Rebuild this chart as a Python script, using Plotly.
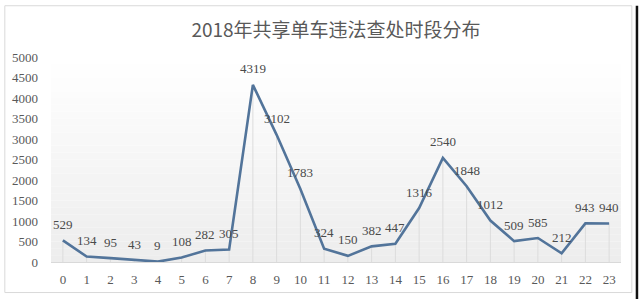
import plotly.graph_objects as go

# Hourly counts of shared-bike violations handled in 2018
hours = list(range(24))
counts = [529, 134, 95, 43, 9, 108, 282, 305, 4319, 3102, 1783, 324,
          150, 382, 447, 1316, 2540, 1848, 1012, 509, 585, 212, 943, 940]
y_ticks = list(range(0, 5001, 500))

title_text = "2018年共享单车违法查处时段分布"
line_color = "#52749a"
label_color = "#4a4a4a"
axis_text = "#595959"
num_font = "Liberation Serif, DejaVu Serif, serif"

fig = go.Figure()

# drop lines from each point down to the category axis
drop_x, drop_y = [], []
for h, c in zip(hours, counts):
    drop_x += [h, h, None]
    drop_y += [0, c, None]
fig.add_trace(go.Scatter(x=drop_x, y=drop_y, mode="lines",
                         line=dict(color="#dcdcdc", width=1),
                         hoverinfo="skip", showlegend=False))

fig.add_trace(go.Scatter(x=hours, y=counts, mode="lines",
                         line=dict(color=line_color, width=2.6),
                         showlegend=False))

# value labels above each point
for h, c in zip(hours, counts):
    fig.add_annotation(x=h, y=c, text=str(c), showarrow=False,
                       yshift=16, xanchor="center", yanchor="middle",
                       font=dict(family=num_font, size=13, color=label_color))

# soft vertical gradient behind the plot area
n_bands = 30
for i in range(n_bands):
    t = i / (n_bands - 1)
    g = int(round(255 - 18 * (1 - t)))
    fig.add_shape(type="rect", xref="x domain", yref="y domain",
                  x0=0, x1=1, y0=i / n_bands, y1=(i + 1) / n_bands,
                  fillcolor=f"rgb({g},{g},{g})", line=dict(width=0),
                  layer="below")

# chart frame and right edge rule
fig.add_shape(type="rect", xref="paper", yref="paper",
              x0=-0.081, x1=1.019, y0=-0.149, y1=1.25,
              line=dict(color="#d9d9d9", width=1), layer="below")
fig.add_shape(type="line", xref="paper", yref="paper",
              x0=1.028, x1=1.028, y0=-0.2, y1=1.25,
              line=dict(color="#111111", width=2.5))

fig.update_layout(
    width=640, height=299,
    margin=dict(l=50, r=19, t=57, b=34),
    paper_bgcolor="white", plot_bgcolor="white",
    title=dict(text=title_text, x=0.5, xref="paper", xanchor="center",
               y=0.9, yref="container", yanchor="middle",
               font=dict(family="Noto Sans CJK SC", size=19, color="#595959")),
    xaxis=dict(range=[-0.5, 23.5], tickmode="array", tickvals=hours,
               ticktext=[str(h) for h in hours], showgrid=False,
               zeroline=False, showline=False, ticks="",
               ticklabelstandoff=8,
               tickfont=dict(family=num_font, size=13, color=axis_text)),
    yaxis=dict(range=[0, 5000], tickmode="array", tickvals=y_ticks,
               ticktext=[str(v) for v in y_ticks], showgrid=False,
               zeroline=True, zerolinecolor="#d9d9d9", zerolinewidth=1,
               showline=False, ticks="", ticklabelstandoff=12,
               tickfont=dict(family=num_font, size=13, color=axis_text)),
)

fig.write_html("out.html")
